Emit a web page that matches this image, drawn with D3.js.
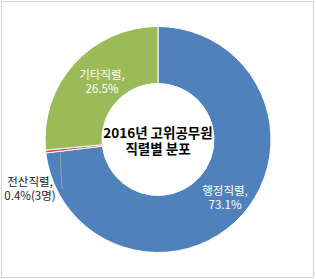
<!DOCTYPE html>
<html><head><meta charset="utf-8">
<script src="https://cdn.jsdelivr.net/npm/d3@7/dist/d3.min.js"></script>
<style>body{margin:0;background:#fff}svg{display:block}</style>
</head><body>
<svg id="c" width="316" height="279"></svg>
<script>
const categories = ["행정직렬", "전산직렬", "기타직렬"];
const values = [73.1, 0.4, 26.5];
const valueLabels = ["73.1%", "0.4%(3명)", "26.5%"];
const colors = ["#4F81BD", "#C0504D", "#9BBB59"];
const titleLines = ["2016년 고위공무원", "직렬별 분포"];

const svg = d3.select("#c");
svg.append("rect").attr("x", 1.5).attr("y", 1.5).attr("width", 312).attr("height", 276)
  .attr("fill", "#fff").attr("stroke", "#d4d4d4").attr("stroke-width", 1);

const cx = 158, cy = 139.5, R = 113, r = 56;
const g = svg.append("g").attr("transform", `translate(${cx},${cy})`);
const pie = d3.pie().sort(null).value(d => d)(values);
const arc = d3.arc().innerRadius(r).outerRadius(R);
g.selectAll("path").data(pie).join("path")
  .attr("d", arc).attr("fill", (d, i) => colors[i])
  .attr("stroke", "#fff").attr("stroke-width", 1);

const font = "'Noto Sans CJK KR', 'Noto Sans', sans-serif";
const lab = [
  {i: 0, x: 225, y: 195, fill: "#fff"},
  {i: 2, x: 102, y: 79, fill: "#fff"},
  {i: 1, x: 30, y: 186, fill: "#1a1a1a"}
];
lab.forEach(L => {
  [categories[L.i] + ",", valueLabels[L.i]].forEach((s, k) => {
    svg.append("text").attr("x", L.x).attr("y", L.y + k * 14).attr("text-anchor", "middle")
      .attr("font-family", font).attr("font-size", 11.5).attr("fill", L.fill).text(s);
  });
});
const mid = (pie[1].startAngle + pie[1].endAngle) / 2;
const pr = (r + R) / 2 + 14;
svg.append("polyline")
  .attr("points", `${cx + Math.sin(mid) * pr},${cy - Math.cos(mid) * pr + 2} 62,189`)
  .attr("fill", "none").attr("stroke", "#a6a6a6").attr("stroke-width", 0.8);

titleLines.forEach((s, k) => svg.append("text").attr("text-anchor", "middle").attr("font-family", font)
  .attr("font-weight", "bold").attr("font-size", 13.5).attr("fill", "#000")
  .attr("x", cx).attr("y", 138 + k * 15.5).text(s));
</script>
</body></html>
